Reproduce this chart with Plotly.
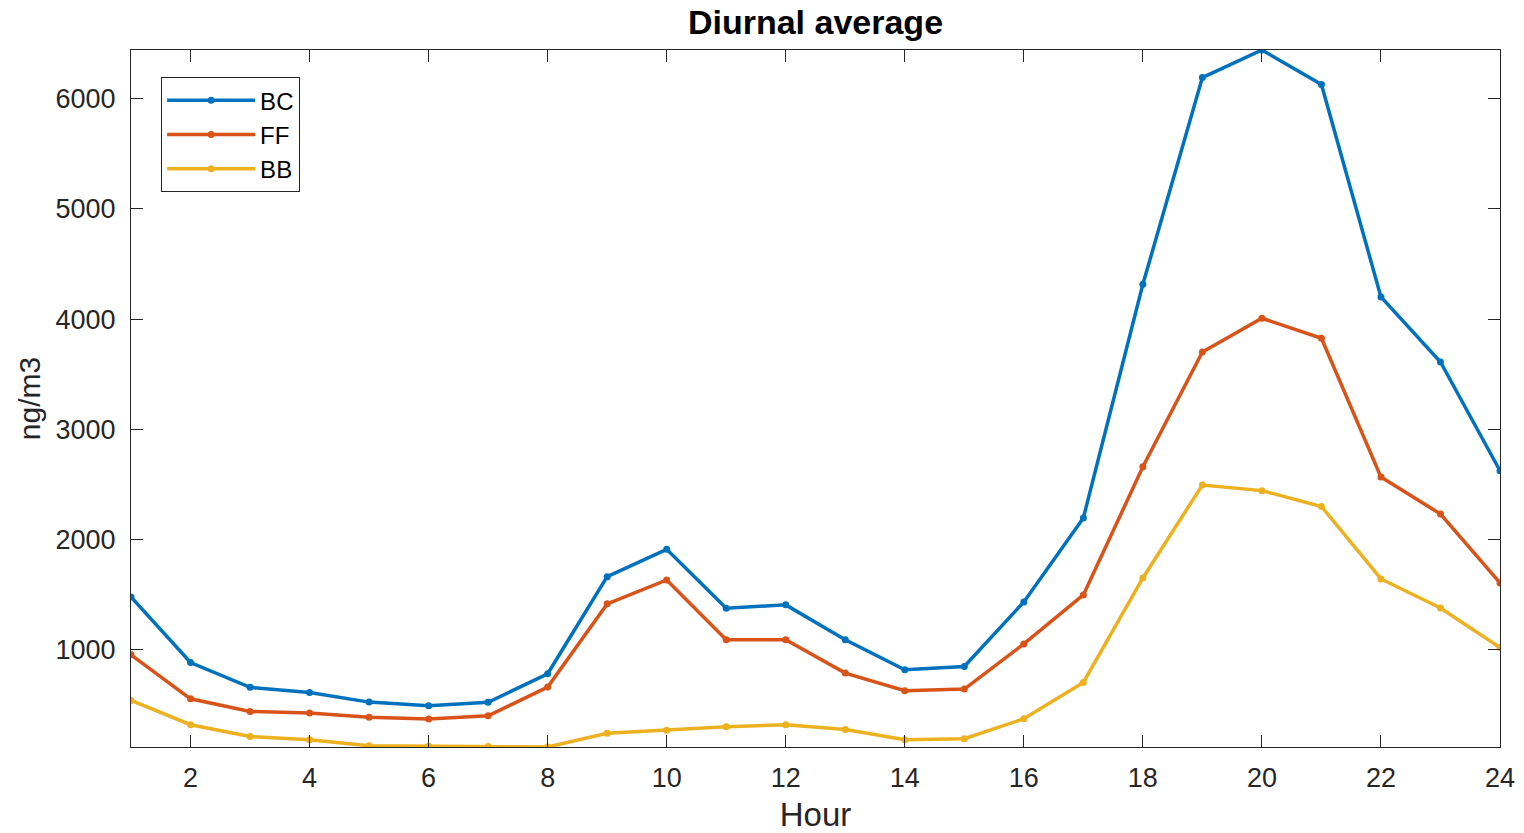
import plotly.graph_objects as go

hours = list(range(1, 25))
bc = [1480, 885, 660, 613, 526, 493, 524, 783, 1664, 1912, 1377, 1408,
      1091, 819, 849, 1435, 2196, 4315, 6190, 6440, 6127, 4200, 3611, 2624]
ff = [955, 556, 441, 427, 388, 373, 402, 662, 1417, 1634, 1091, 1091,
      789, 629, 644, 1054, 1498, 2660, 3701, 4007, 3826, 2567, 2232, 1607]
bb = [541, 321, 215, 185, 130, 126, 124, 119, 244, 272, 302, 321,
      278, 185, 194, 375, 704, 1652, 2495, 2444, 2300, 1643, 1380, 1021]
series = [("BC", bc, "#0072BD"), ("FF", ff, "#D95319"), ("BB", bb, "#EDB120")]
xticks = list(range(2, 25, 2))
yticks = [1000, 2000, 3000, 4000, 5000, 6000]

font = "Liberation Sans, Arial, Helvetica, sans-serif"
axcol = "#262626"

fig = go.Figure()
for name, vals, col in series:
    fig.add_trace(go.Scatter(
        x=hours, y=vals, name=name, mode="lines+markers",
        line=dict(color=col, width=3.5),
        marker=dict(color=col, size=7),
        legendgroup=name,
    ))

allv = bc + ff + bb
fig.update_layout(
    width=1524, height=833,
    margin=dict(l=131, r=24, t=50, b=86, autoexpand=False),
    paper_bgcolor="white", plot_bgcolor="white",
    font=dict(family=font, color=axcol, size=26),
    title=dict(text="<b>Diurnal average</b>", x=0.5351, xanchor="center",
               y=0.973, yanchor="middle",
               font=dict(family=font, size=34, color="black")),
    showlegend=True,
    legend=dict(x=0.022, y=0.961, xanchor="left", yanchor="top",
                bordercolor=axcol, borderwidth=1, bgcolor="white",
                font=dict(family=font, size=24, color="black"),
                traceorder="grouped", tracegroupgap=0,
                itemwidth=88),
    xaxis=dict(range=[1, 24], tickvals=xticks, ticks="inside", ticklen=12,
               tickcolor=axcol, showline=True, linecolor=axcol, linewidth=1,
               mirror="allticks", showgrid=False, zeroline=False,
               ticklabelstandoff=7, automargin=False,
               tickfont=dict(size=27, color=axcol),
               title=dict(text="Hour", font=dict(size=33, color=axcol), standoff=12)),
    yaxis=dict(range=[min(allv), max(allv)], tickvals=yticks, ticks="inside", ticklen=12,
               tickcolor=axcol, showline=True, linecolor=axcol, linewidth=1,
               mirror="allticks", showgrid=False, zeroline=False,
               ticklabelstandoff=9, automargin=False,
               tickfont=dict(size=27, color=axcol),
               title=dict(text="ng/m3", font=dict(size=30, color=axcol), standoff=6)),
)
fig.write_html("out.html")
